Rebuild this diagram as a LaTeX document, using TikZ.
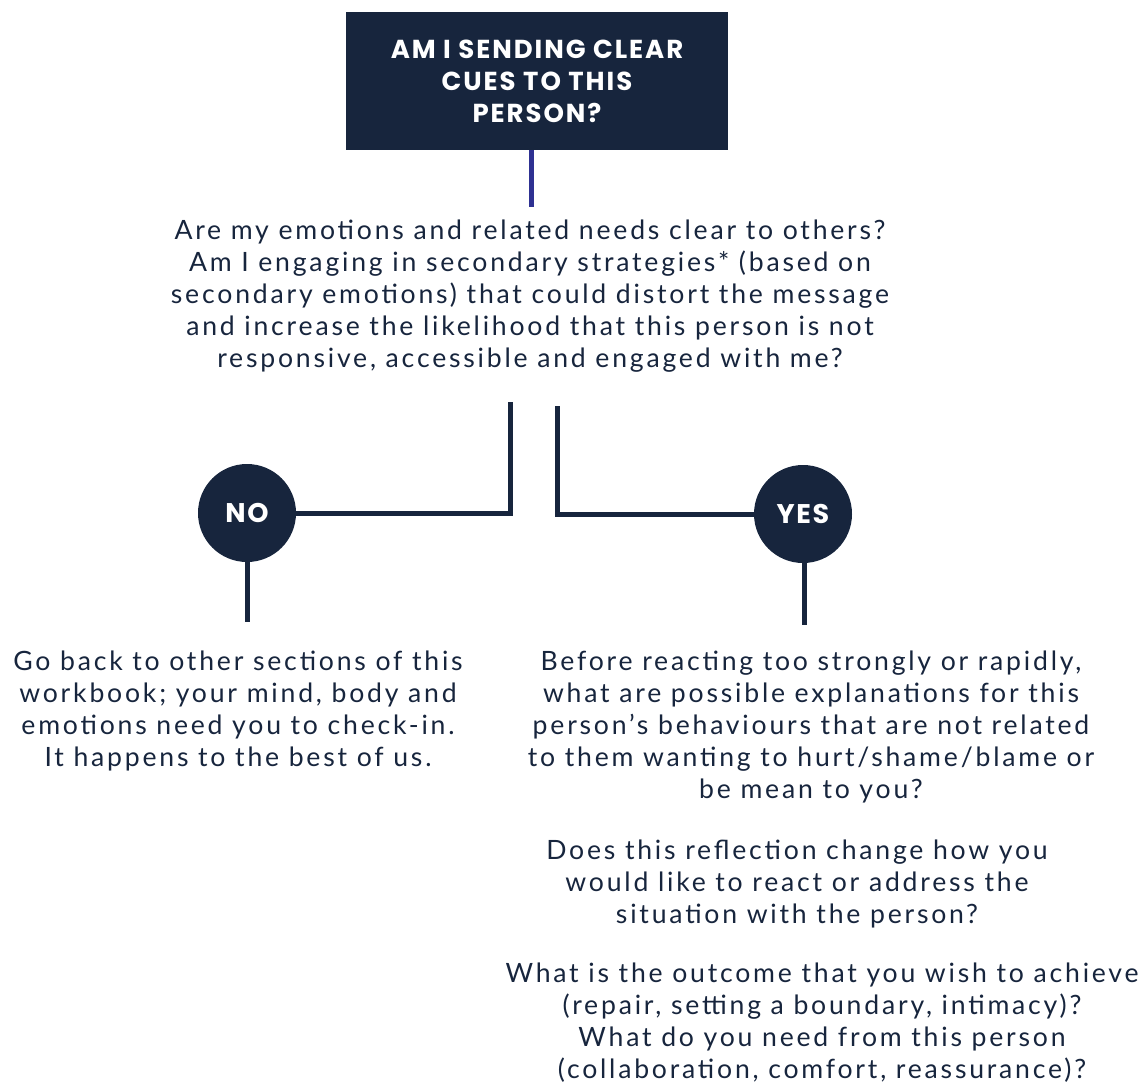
\documentclass[tikz,border=0pt]{standalone}
\usepackage{fontspec}
\setmainfont{Lato}[LetterSpace=10.5]
\newfontfamily\headfont{Poppins}[LetterSpace=7.5]
\newfontfamily\answerfont{Poppins}[LetterSpace=6]
\usetikzlibrary{positioning}
\definecolor{navy}{HTML}{17253D}
\definecolor{inkblue}{HTML}{2E3192}

\tikzset{
  headbox/.style={fill=navy, text=white, font=\headfont\bfseries\fontsize{26}{32}\selectfont,
    align=center, minimum width=382pt, minimum height=138pt, inner sep=0pt},
  answer/.style={circle, fill=navy, text=white, font=\answerfont\bfseries\fontsize{27}{30}\selectfont,
    minimum size=98pt, inner sep=0pt},
  bodytext/.style={text=navy, align=center, font=\fontsize{26.6}{32}\selectfont, inner sep=0pt},
  link/.style={draw=navy, line width=5pt}
}

\begin{document}
\begin{tikzpicture}[x=1pt, y=-1pt]
\useasboundingbox (0,0) rectangle (1145,1090);

\node[headbox] (cues) at (537,81) {AM I SENDING CLEAR\\CUES TO THIS\\PERSON?};

\node[bodytext] (clear) at (530,296) {Are my emotions and related needs clear to others?\\
  Am I engaging in secondary strategies* (based on\\
  secondary emotions) that could distort the message\\
  and increase the likelihood that this person is not\\
  responsive, accessible and engaged with me?};

\node[answer] (no) at (247,513) {NO};
\node[answer] (yes) at (803,514) {YES};

\node[bodytext] (goback) at (238,711) {Go back to other sections of this\\
  workbook; your mind, body and\\
  emotions need you to check-in.\\
  It happens to the best of us.};

\node[bodytext] (explain) at (811,727) {Before reacting too strongly or rapidly,\\
  what are possible explanations for this\\
  person's behaviours that are not related\\
  to them wanting to hurt/shame/blame or\\
  be mean to you?};

\node[bodytext] (reflect) at (797,884) {Does this reflection change how you\\
  would like to react or address the\\
  situation with the person?};

\node[bodytext] (outcome) at (822,1023) {What is the outcome that you wish to achieve\\
  (repair, setting a boundary, intimacy)?\\
  What do you need from this person\\
  (collaboration, comfort, reassurance)?};

% fork ends under the question
\coordinate (cuesend) at (531,207);
\coordinate (nofork) at (510,402);
\coordinate (yesfork) at (557,406);
\coordinate (noend) at (247,622);
\coordinate (yesend) at (804,625);

\draw[link, draw=inkblue] (cues.south -| cuesend) -- (cuesend);
\draw[link] (no.east) -- (no.east -| nofork) -- (nofork);
\draw[link] (yes.west) -- (yes.west -| yesfork) -- (yesfork);
\draw[link] (no.south) -- (noend);
\draw[link] (yes.south -| yesend) -- (yesend);
\end{tikzpicture}
\end{document}
